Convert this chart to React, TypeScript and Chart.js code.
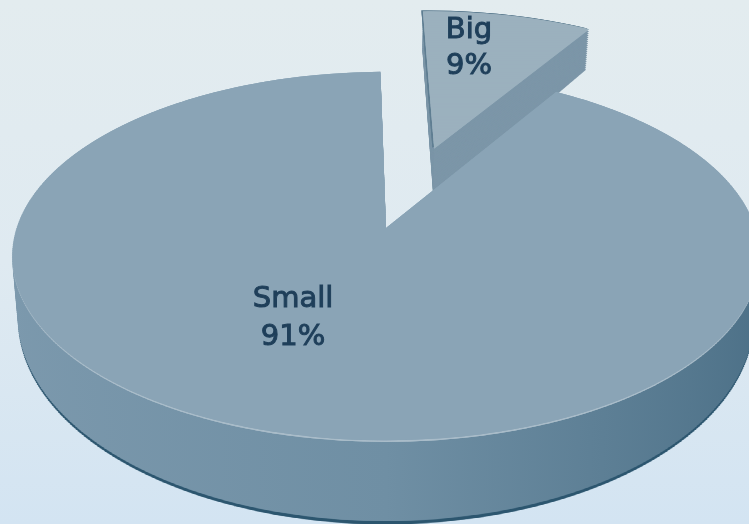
import React, { useEffect, useRef } from "react";
import { Chart, registerables } from "chart.js";

Chart.register(...registerables);

const categories = ["Big", "Small"];
const shares = [9, 91];
const rotationDeg = -1;
const topColors = ["#9bb1be", "#8aa4b6"];
const wallColor = "#7c96a8";

// Perspective of the photographed pie
const VIEW = { x0: 386, y0: 228, ax: 369, by: 180, p: 0.152, depth: 58 };
// How far each slice is moved out of the pie, as shares of the radius
const pullX = [0.14, 0];
const pullY = [-0.473, 0];

function warpArc(ctx: CanvasRenderingContext2D, arc: any, dx: number, dy: number, t: number, fill: any) {
  const R = arc.outerRadius;
  const cx = arc.x;
  const cy = arc.y;
  const savedOptions = arc.options;
  arc.options = { ...savedOptions, backgroundColor: fill, borderWidth: 0 };
  arc.x = cx + dx * R;
  arc.y = cy + dy * R;
  const step = 2.6;
  for (let yl = -1.6 * R; yl < 1.05 * R; yl += step) {
    const ym = yl + step / 2;
    const w = 1 - (VIEW.p * ym) / R;
    const shrink = 1 - 0.015 * t;
    const A = ((VIEW.ax / R) / w) * shrink;
    const S = (VIEW.by / R) / (w * w);
    const Ym = VIEW.y0 + ((VIEW.by / R) * ym) / w + (t * VIEW.depth) / (w * w);
    ctx.save();
    ctx.transform(A, 0, 0, S, VIEW.x0 - A * cx, Ym - S * ym - S * cy);
    ctx.beginPath();
    ctx.rect(cx - 2 * R, cy + yl - 2, 4 * R, step + 4);
    ctx.clip();
    arc.draw(ctx);
    ctx.restore();
  }
  arc.x = cx;
  arc.y = cy;
  arc.options = savedOptions;
}

const piePlugin = {
  id: "photoPie",
  beforeDraw(chart: any) {
    const { ctx, width, height } = chart;
    const g = ctx.createLinearGradient(0, 0, 0, height);
    g.addColorStop(0, "#e3ecef");
    g.addColorStop(0.5, "#dfeaf1");
    g.addColorStop(1, "#d3e4f2");
    ctx.save();
    ctx.fillStyle = g;
    ctx.fillRect(0, 0, width, height);
    ctx.restore();
  },
  beforeDatasetsDraw(chart: any) {
    const { ctx } = chart;
    const arcs = chart.getDatasetMeta(0).data;
    const big = arcs[0];
    const small = arcs[1];
    const R = small.outerRadius;
    const wall = ctx.createLinearGradient(small.x - R, 0, small.x + R, 0);
    wall.addColorStop(0, "#7c99ad");
    wall.addColorStop(0.5, "#6f8fa4");
    wall.addColorStop(1, "#4c7087");
    for (let t = 1; t > 0; t -= 0.05) warpArc(ctx, big, pullX[0], pullY[0], t, wallColor);
    warpArc(ctx, big, pullX[0] - 0.005, pullY[0] - 0.007, 0, "#5f7e92");
    warpArc(ctx, small, pullX[1], pullY[1], 1.04, "#2c566f");
    for (let t = 1; t > 0.02; t -= 0.04) warpArc(ctx, small, pullX[1], pullY[1], t, wall);
    warpArc(ctx, small, pullX[1], pullY[1], 0.02, "#a9bcc9");
    arcs.forEach((arc: any, i: number) => warpArc(ctx, arc, pullX[i], pullY[i], 0, arc.options.backgroundColor));
    return false;
  },
  afterDraw(chart: any) {
    const { ctx } = chart;
    const data = chart.data.datasets[0].data;
    const spots = [
      [469, 30, 66],
      [293, 299, 337],
    ];
    ctx.save();
    ctx.font = "29px 'DejaVu Sans'";
    ctx.textAlign = "center";
    ctx.textBaseline = "middle";
    ctx.fillStyle = "#1f3f5a";
    ctx.strokeStyle = "#1f3f5a";
    ctx.lineWidth = 1;
    chart.data.labels.forEach((label: string, i: number) => {
      const [x, y1, y2] = spots[i];
      const pct = `${data[i]}%`;
      ctx.fillText(label, x, y1);
      ctx.strokeText(label, x, y1);
      ctx.fillText(pct, x, y2);
      ctx.strokeText(pct, x, y2);
    });
    ctx.restore();
  },
};

export default function App() {
  const ref = useRef<HTMLCanvasElement>(null);
  useEffect(() => {
    const chart = new Chart(ref.current as HTMLCanvasElement, {
      type: "pie",
      data: {
        labels: categories,
        datasets: [
          {
            data: shares,
            backgroundColor: topColors,
            borderWidth: 0,
            clip: false,
          } as any,
        ],
      },
      options: {
        responsive: false,
        animation: false,
        rotation: rotationDeg,
        events: [],
        plugins: { legend: { display: false }, tooltip: { enabled: false } },
      },
      plugins: [piePlugin as any],
    });
    return () => chart.destroy();
  }, []);
  return (
    <div style={{ position: "fixed", left: 0, top: 0, width: 749, height: 524, overflow: "hidden", background: "#dfeaf1" }}>
      <canvas ref={ref} width={749} height={524} style={{ display: "block", filter: "blur(0.7px)" }} />
    </div>
  );
}
